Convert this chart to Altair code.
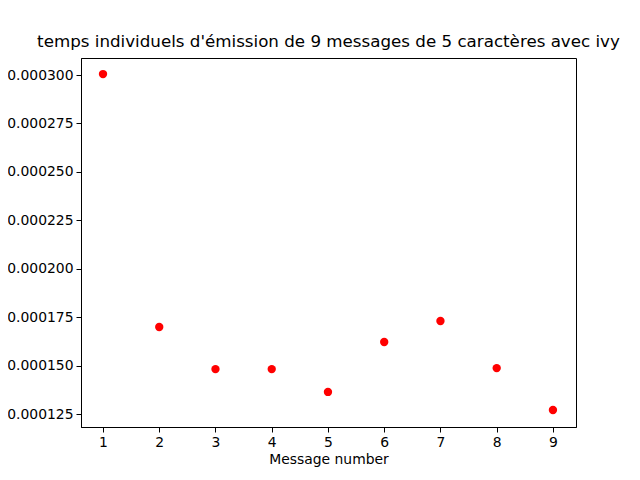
import altair as alt
import pandas as pd

message_number = [1, 2, 3, 4, 5, 6, 7, 8, 9]
emission_time = [0.0003005, 0.0001699, 0.0001482, 0.0001482, 0.0001364,
                 0.0001622, 0.0001730, 0.0001487, 0.0001271]
y_ticks = [0.000125, 0.000150, 0.000175, 0.000200, 0.000225, 0.000250,
           0.000275, 0.000300]

frame = pd.DataFrame({"msg": message_number, "t": emission_time})
font = "DejaVu Sans"

points = (
    alt.Chart(frame)
    .mark_circle(color="#ff0000", opacity=1, size=70)
    .encode(
        x=alt.X("msg:Q", title="Message number",
                scale=alt.Scale(domain=[0.609, 9.41], nice=False, zero=False),
                axis=alt.Axis(values=message_number, format="d", grid=False)),
        y=alt.Y("t:Q", title=None,
                scale=alt.Scale(domain=[0.0001183, 0.0003088], nice=False, zero=False),
                axis=alt.Axis(values=y_ticks, format=".6f", grid=False)),
    )
)

chart = (
    points.properties(
        width=495,
        height=369,
        title=alt.TitleParams(
            "temps individuels d'émission de 9 messages de 5 caractères avec ivy",
            font=font, fontSize=16.7, fontWeight="normal", color="black", offset=7,
        ),
        autosize=alt.AutoSizeParams(type="none"),
        padding={"left": 73, "top": 50, "right": 56, "bottom": 45},
    )
    .configure_view(stroke="black", strokeWidth=1)
    .configure_axis(
        labelFont=font, labelFontSize=13.9, labelColor="black",
        titleFont=font, titleFontSize=13.9, titleFontWeight="normal", titleColor="black",
        domainColor="black", tickColor="black", tickSize=5, labelPadding=3,
    )
)

chart.save("out.html", embed_options={"renderer": "svg", "actions": False})
